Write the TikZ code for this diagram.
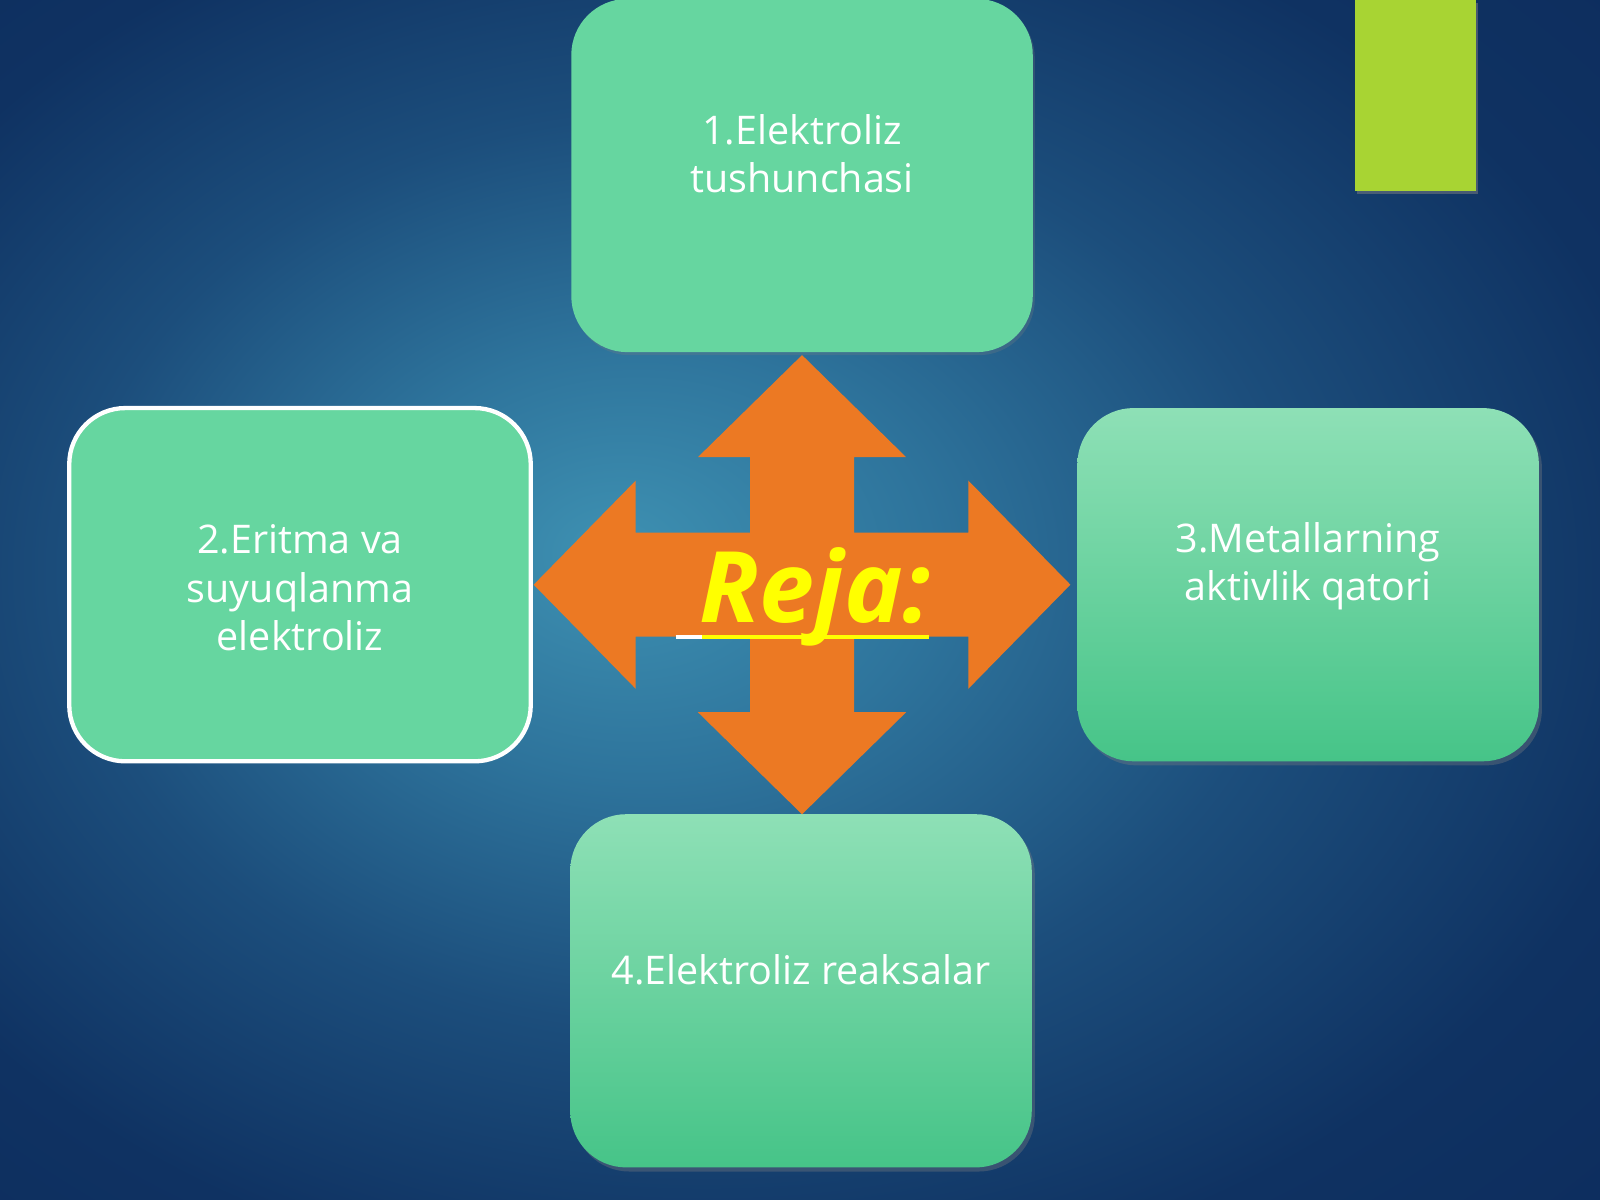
\documentclass[tikz,border=0pt]{standalone}
\usepackage{fontspec}
\setmainfont{Open Sans}
\usetikzlibrary{shadows}

\definecolor{bgin}{RGB}{62,145,178}
\definecolor{bgmid}{RGB}{46,116,156}
\definecolor{bgedge}{RGB}{28,78,124}
\definecolor{bgdark}{RGB}{15,50,98}
\definecolor{bgout}{RGB}{10,38,88}
\definecolor{boxgreen}{RGB}{102,214,160}
\definecolor{boxtop}{RGB}{142,224,182}
\definecolor{boxbot}{RGB}{70,196,136}
\definecolor{arrowor}{RGB}{236,121,35}
\definecolor{barlime}{RGB}{168,212,51}
\definecolor{rejayel}{RGB}{255,255,0}

\pgfdeclareradialshading{slidebg}{\pgfpoint{-6bp}{2bp}}{color(0bp)=(bgin); color(9bp)=(bgmid); color(19bp)=(bgedge); color(30bp)=(bgdark); color(50bp)=(bgout)}

\tikzset{
  box/.style={rectangle, rounded corners=0.55cm, minimum width=4.52cm, minimum height=3.46cm, inner sep=0pt},
  flatbox/.style={box, fill=boxgreen},
  shadebox/.style={box, top color=boxtop, bottom color=boxbot,
    drop shadow={opacity=0.35, shadow xshift=0.03cm, shadow yshift=-0.04cm}},
  boxtext/.style={text=white, align=center, font=\fontsize{11}{13.4}\selectfont},
}

\begin{document}
\begin{tikzpicture}[x=0.01cm, y=-0.01cm]
  \useasboundingbox (0,0) rectangle (1568,1176);
  \shade[shading=slidebg] (0,0) rectangle (1568,1176); % background
  \fill[barlime, drop shadow={opacity=0.5, shadow xshift=0.02cm, shadow yshift=-0.03cm}]
    (1328,0) rectangle (1446,187); % corner bar

  % four boxes
  \node[flatbox, drop shadow={opacity=0.25, shadow xshift=0.02cm, shadow yshift=-0.03cm}]
    (tushuncha) at (786,172) {};
  \node[flatbox, draw=white, line width=1.2pt] (eritma) at (294,573) {};
  \node[shadebox] (aktivlik) at (1282,573) {};
  \node[shadebox] (reaksiya) at (785,971) {};

  \node[boxtext] at ([yshift=0.21cm]tushuncha.center) {1.Elektroliz\\tushunchasi};
  \node[boxtext] at ([yshift=-0.03cm]eritma.center) {2.Eritma va\\suyuqlanma\\elektroliz};
  \node[boxtext] at ([yshift=0.18cm]aktivlik.center) {3.Metallarning\\aktivlik qatori};
  \node[boxtext] at ([yshift=0.21cm]reaksiya.center) {4.Elektroliz reaksalar};

  % four-way arrow
  \coordinate (hub) at (786,573);
  \fill[arrowor, shift={(hub)}]
    (0,-225) -- (102,-125) -- (51,-125) -- (51,-51) -- (163,-51) -- (163,-102)
    -- (263,0) -- (163,102) -- (163,51) -- (51,51) -- (51,125) -- (102,125)
    -- (0,225) -- (-102,125) -- (-51,125) -- (-51,51) -- (-163,51) -- (-163,102)
    -- (-263,0) -- (-163,-102) -- (-163,-51) -- (-51,-51) -- (-51,-125) -- (-102,-125)
    -- cycle;

  \node[anchor=base, text=rejayel, font=\fontsize{27.5}{31}\selectfont\bfseries\itshape]
    (reja) at (799,610) {Reja:};
  \coordinate (ulA) at (662,624);
  \coordinate (ulB) at (688,624);
  \coordinate (ulC) at (910,624);
  \draw[white, line width=1pt] (ulA) -- (ulB); % underline
  \draw[rejayel, line width=1pt] (ulB) -- (ulC);
\end{tikzpicture}
\end{document}
